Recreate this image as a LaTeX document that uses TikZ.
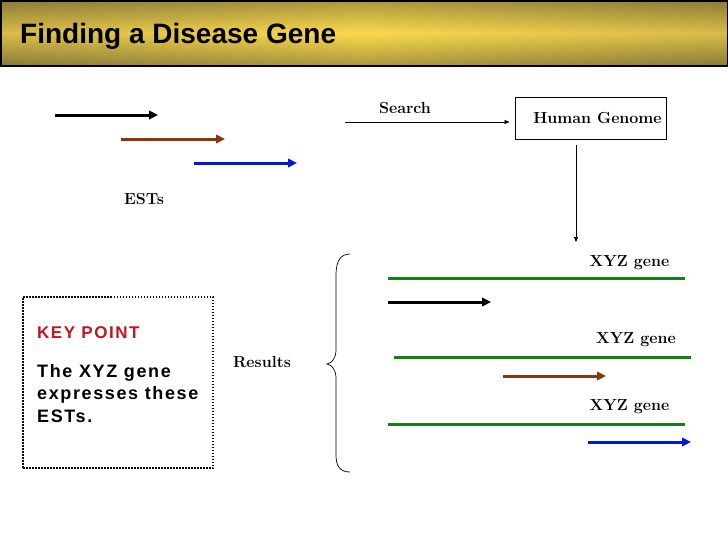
\documentclass[tikz,border=0pt]{standalone}
\usepackage{fontspec}
\usepackage{xcolor}
\usepackage{tikz}
\usetikzlibrary{arrows.meta, positioning, calc}
\newfontfamily\titlefont{Liberation Sans}
\newfontfamily\keyfont[LetterSpace=9]{Liberation Sans}
\definecolor{barlight}{RGB}{250, 218, 76}
\definecolor{bardark}{RGB}{138, 122, 58}
\definecolor{estbrown}{RGB}{140, 52, 12}
\definecolor{estblue}{RGB}{0, 24, 220}
\definecolor{genegreen}{RGB}{22, 128, 22}
\definecolor{keyred}{RGB}{192, 22, 30}

\begin{document}
\begin{tikzpicture}[
    x=1pt, y=-1pt,
    lbl/.style={font=\fontsize{16}{19}\selectfont\bfseries, inner sep=0pt, anchor=base},
    est/.style={line width=3pt, -{Triangle[length=9pt, width=8.5pt]}},
    gene/.style={line width=3pt, genegreen},
    thinarrow/.style={line width=0.6pt, -{Triangle[length=5pt, width=4pt]}},
    genomebox/.style={draw, line width=0.9pt, minimum width=151pt, minimum height=42pt,
                      inner sep=0pt, font=\fontsize{16}{19}\selectfont\bfseries},
    keybox/.style={draw, line width=1.5pt, dash pattern=on 1.5pt off 1.5pt,
                   minimum width=190pt, minimum height=171pt, inner sep=0pt}
]
    \useasboundingbox (0,0) rectangle (728,546);
    \fill[white] (0,0) rectangle (728,546);

    % title bar
    \shade[top color=bardark, bottom color=bardark, middle color=barlight]
        (0,0) rectangle (728,66);
    \shade[left color=bardark, right color=bardark, middle color=barlight, opacity=0.3]
        (0,0) rectangle (728,66);
    \draw[line width=1.5pt] (0.75,0.75) rectangle (727.25,66);
    \node[anchor=base west, inner sep=0pt, font=\titlefont\fontsize{28}{32}\selectfont\bfseries]
        (title) at (20,43) {Finding a Disease Gene};

    % ESTs
    \coordinate (est1a) at (55,115);  \coordinate (est1b) at (158,115);
    \coordinate (est2a) at (121,139); \coordinate (est2b) at (225,139);
    \coordinate (est3a) at (194,163); \coordinate (est3b) at (297,163);
    \draw[est, black] (est1a) -- (est1b);
    \draw[est, estbrown] (est2a) -- (est2b);
    \draw[est, estblue] (est3a) -- (est3b);
    \node[lbl] (ests) at (144,204) {ESTs};

    % search
    \node[genomebox] (genome) at (590.5,118) {\hspace*{14pt}Human Genome};
    \coordinate (searchstart) at (345,122);
    \draw[thinarrow, shorten >=5pt] (searchstart) -- (searchstart -| genome.west);
    \node[lbl] (search) at (405,113) {Search};
    \coordinate (hit) at (576,242);
    \draw[thinarrow, shorten <=6pt] (genome.south -| hit) -- (hit);

    % results
    \node[lbl] (gene1) at (629.5,266) {XYZ gene};
    \node[lbl] (gene2) at (636,343) {XYZ gene};
    \node[lbl] (gene3) at (629.5,410) {XYZ gene};
    \draw[gene] (388,278) -- (685,278);
    \draw[gene] (394,357) -- (691,357);
    \draw[gene] (388,424) -- (685,424);
    \draw[est, black] (388,302) -- (491,302);
    \draw[est, estbrown] (503,376) -- (606,376);
    \draw[est, estblue] (588,442) -- (691,442);

    \draw[line width=0.7pt] (350,254) .. controls (340,254) and (336,262) .. (336,275)
        -- (336,350) .. controls (336,358) and (332,363) .. (327,364)
        .. controls (332,365) and (336,370) .. (336,378)
        -- (336,455) .. controls (336,466) and (340,472) .. (350,472);
    \node[lbl] (results) at (262,367) {Results};

    % key point
    \node[keybox] (keypoint) at (118,382.5) {};
    \node[anchor=base west, inner sep=0pt, text=keyred,
          font=\keyfont\fontsize{17}{20}\selectfont\bfseries] (keyhead) at (37,338) {KEY POINT};
    \node[anchor=north west, inner sep=0pt, align=left,
          font=\keyfont\fontsize{18}{22.5}\selectfont\bfseries] (keytext) at (37,364)
        {The XYZ gene\\expresses these\\ESTs.};
\end{tikzpicture}
\end{document}
